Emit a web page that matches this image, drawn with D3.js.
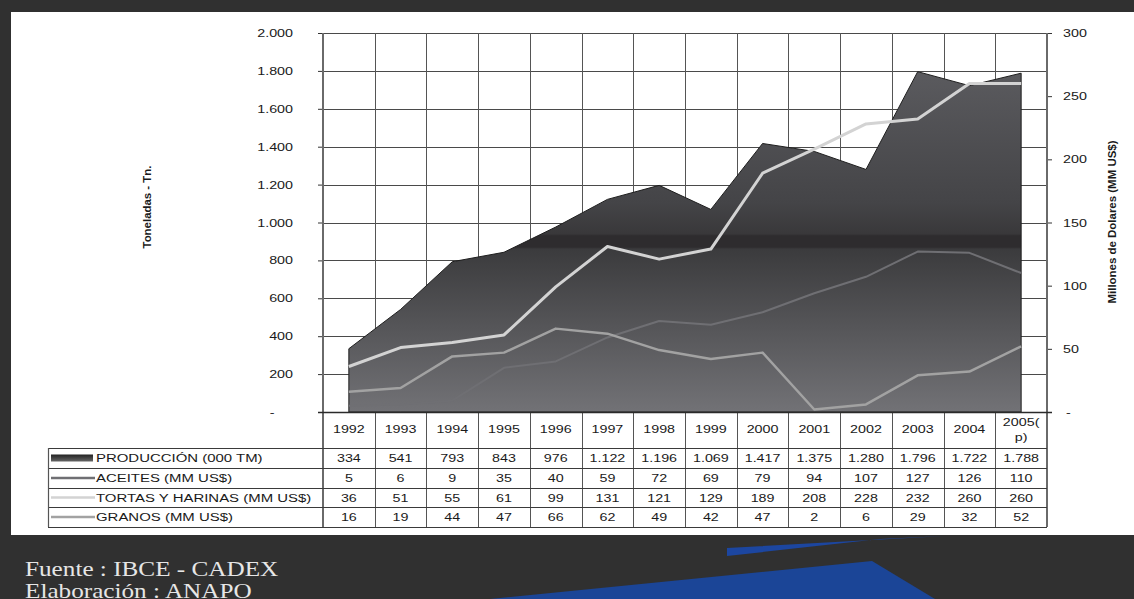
<!DOCTYPE html>
<html>
<head>
<meta charset="utf-8">
<script src="https://cdn.jsdelivr.net/npm/d3@7"></script>
<style>
  html, body { margin: 0; padding: 0; background: #303030; }
  svg { display: block; }
</style>
</head>
<body>
<div id="chart"></div>
<script>
// Producción y exportaciones de soya - area + lineas, tabla de datos debajo

var years = ["1992", "1993", "1994", "1995", "1996", "1997", "1998", "1999", "2000", "2001", "2002", "2003", "2004", "2005(p)"];
var produccion = [334, 541, 793, 843, 976, 1122, 1196, 1069, 1417, 1375, 1280, 1796, 1722, 1788];
var aceites = [5, 6, 9, 35, 40, 59, 72, 69, 79, 94, 107, 127, 126, 110];
var tortas = [36, 51, 55, 61, 99, 131, 121, 129, 189, 208, 228, 232, 260, 260];
var granos = [16, 19, 44, 47, 66, 62, 49, 42, 47, 2, 6, 29, 32, 52];

var leftTicks = [0, 200, 400, 600, 800, 1000, 1200, 1400, 1600, 1800, 2000];
var rightTicks = [0, 50, 100, 150, 200, 250, 300];

var seriesRows = [
    { name: "PRODUCCIÓN (000 TM)", values: produccion, kind: "area" },
    { name: "ACEITES (MM US$)", values: aceites, kind: "line", color: "#6f6f73", width: 2 },
    { name: "TORTAS Y HARINAS (MM US$)", values: tortas, kind: "line", color: "#d3d3d3", width: 3 },
    { name: "GRANOS (MM US$)", values: granos, kind: "line", color: "#a2a2a2", width: 2.5 }
];

(function() {

    var width = 1134;
    var height = 599;
    var SX = 1.3;   // the original picture is stretched horizontally
    var font = "'Liberation Sans', Arial, sans-serif";

    var locale = d3.formatLocale({ decimal: ",", thousands: ".", grouping: [3], currency: ["$", ""] });
    var fmt = locale.format(",d");

    var svg = d3.select("#chart").append("svg")
        .attr("width", width)
        .attr("height", height);

    var defs = svg.append("defs");

    var grad = defs.append("linearGradient")
        .attr("id", "areaGrad")
        .attr("gradientUnits", "userSpaceOnUse")
        .attr("x1", 0).attr("y1", 33)
        .attr("x2", 0).attr("y2", 412);

    [[0, "#616165"], [0.45, "#444447"], [0.53, "#39383a"], [0.535, "#2e2c2e"],
     [0.565, "#2e2c2e"], [0.57, "#3b3b3d"], [1, "#727276"]].forEach(function(s) {
        grad.append("stop").attr("offset", s[0]).attr("stop-color", s[1]);
    });

    var legGrad = defs.append("linearGradient")
        .attr("id", "legGrad")
        .attr("x1", 0).attr("y1", 0).attr("x2", 0).attr("y2", 1);
    legGrad.append("stop").attr("offset", 0).attr("stop-color", "#222");
    legGrad.append("stop").attr("offset", 1).attr("stop-color", "#666");

    // background
    svg.append("rect")
        .attr("width", width)
        .attr("height", height)
        .attr("fill", "#303030");

    // blue decorations at the bottom
    svg.append("polygon")
        .attr("points", "727,548 945,536 880,539 727,556")
        .attr("fill", "#1c46a0");

    svg.append("polygon")
        .attr("points", "490,599 872,561 935,599")
        .attr("fill", "#1b4597");

    // white panel
    svg.append("rect")
        .attr("x", 11)
        .attr("y", 12)
        .attr("width", width - 11)
        .attr("height", 523)
        .attr("fill", "#ffffff");

    function sText(x, y, str, size, anchor, weight) {
        return svg.append("text")
            .attr("transform", "translate(" + x + "," + y + ") scale(" + SX + ",1)")
            .attr("text-anchor", anchor || "start")
            .attr("font-family", font)
            .attr("font-size", size + "px")
            .attr("font-weight", weight || "normal")
            .attr("fill", "#1a1a1a")
            .text(str);
    }

    // footer texts
    svg.append("text")
        .attr("transform", "translate(25,576) scale(1.2,1)")
        .attr("font-family", "'Liberation Serif', 'Times New Roman', serif")
        .attr("font-size", "21px")
        .attr("fill", "#e6e6e6")
        .text("Fuente : IBCE - CADEX");

    svg.append("text")
        .attr("transform", "translate(25,598) scale(1.2,1)")
        .attr("font-family", "'Liberation Serif', 'Times New Roman', serif")
        .attr("font-size", "21px")
        .attr("fill", "#e6e6e6")
        .text("Elaboración : ANAPO");

    // scales
    var plotLeft = 323, plotRight = 1047, plotTop = 33, plotBottom = 412;
    var tableLeft = 48;
    var rowTops = [448, 468, 488, 507, 527];

    var x = d3.scaleBand().domain(years).range([plotLeft, plotRight]).padding(0);
    var yL = d3.scaleLinear().domain([0, 2000]).range([plotBottom, plotTop]);
    var yR = d3.scaleLinear().domain([0, 300]).range([plotBottom, plotTop]);

    function cx(d) { return x(d) + x.bandwidth() / 2; }

    // grid
    svg.append("g").selectAll("line")
        .data(leftTicks)
        .enter().append("line")
        .attr("x1", plotLeft).attr("x2", plotRight)
        .attr("y1", function(d) { return Math.round(yL(d)) + 0.5; })
        .attr("y2", function(d) { return Math.round(yL(d)) + 0.5; })
        .attr("stroke", "#4a4a4a")
        .attr("stroke-width", 1);

    var bounds = years.map(function(d) { return x(d); }).concat([plotRight]);

    svg.append("g").selectAll("line")
        .data(bounds)
        .enter().append("line")
        .attr("x1", function(d) { return Math.round(d) + 0.5; })
        .attr("x2", function(d) { return Math.round(d) + 0.5; })
        .attr("y1", plotTop)
        .attr("y2", rowTops[4])
        .attr("stroke", "#555555")
        .attr("stroke-width", 1);

    // area
    var area = d3.area()
        .x(function(d, i) { return cx(years[i]); })
        .y0(plotBottom)
        .y1(function(d) { return yL(d); });

    svg.append("path")
        .datum(produccion)
        .attr("d", area)
        .attr("fill", "url(#areaGrad)")
        .attr("stroke", "#1e1e1e")
        .attr("stroke-width", 1);

    // lines on the right axis
    var line = d3.line()
        .x(function(d, i) { return cx(years[i]); })
        .y(function(d) { return yR(d); });

    seriesRows.filter(function(s) { return s.kind === "line"; }).forEach(function(s) {
        svg.append("path")
            .datum(s.values)
            .attr("d", line)
            .attr("fill", "none")
            .attr("stroke", s.color)
            .attr("stroke-width", s.width)
            .attr("stroke-linejoin", "round");
    });

    // axes
    var leftAxis = svg.append("g")
        .attr("transform", "translate(" + plotLeft + ",0)")
        .call(d3.axisLeft(yL).tickValues(leftTicks).tickSize(5).tickFormat(function(d) {
            return d === 0 ? "-" : fmt(d);
        }));

    var rightAxis = svg.append("g")
        .attr("transform", "translate(" + plotRight + ",0)")
        .call(d3.axisRight(yR).tickValues(rightTicks).tickSize(5).tickFormat(function(d) {
            return d === 0 ? "-" : fmt(d);
        }));

    [leftAxis, rightAxis].forEach(function(ax) {
        ax.select(".domain").remove();
        ax.selectAll(".tick line").attr("stroke", "#333");
        ax.selectAll(".tick text")
            .attr("font-family", font)
            .attr("font-size", "11px")
            .attr("fill", "#1a1a1a")
            .attr("transform", "scale(" + SX + ",1)");
    });

    leftAxis.selectAll(".tick text")
        .attr("x", function(d) { return d === 0 ? -51 / SX : -30 / SX; })
        .attr("text-anchor", function(d) { return d === 0 ? "middle" : "end"; });

    rightAxis.selectAll(".tick text")
        .attr("x", function(d) { return d === 0 ? 19 / SX : 16 / SX; });

    // axis lines
    svg.append("line")
        .attr("x1", plotLeft).attr("x2", plotLeft)
        .attr("y1", plotTop).attr("y2", rowTops[4])
        .attr("stroke", "#6a6a6a").attr("stroke-width", 2);

    svg.append("line")
        .attr("x1", plotRight).attr("x2", plotRight)
        .attr("y1", plotTop).attr("y2", rowTops[4])
        .attr("stroke", "#6a6a6a").attr("stroke-width", 2);

    svg.append("line")
        .attr("x1", plotLeft - 5).attr("x2", plotRight + 5)
        .attr("y1", plotBottom + 0.5).attr("y2", plotBottom + 0.5)
        .attr("stroke", "#2a2a2a").attr("stroke-width", 1.5);

    // axis titles
    svg.append("text")
        .attr("transform", "translate(151,207) scale(" + SX + ",1) rotate(-90)")
        .attr("text-anchor", "middle")
        .attr("font-family", font)
        .attr("font-size", "9px")
        .attr("font-weight", "bold")
        .attr("fill", "#1a1a1a")
        .attr("textLength", 83)
        .attr("lengthAdjust", "spacingAndGlyphs")
        .text("Toneladas - Tn.");

    svg.append("text")
        .attr("transform", "translate(1116,222) scale(" + SX + ",1) rotate(-90)")
        .attr("text-anchor", "middle")
        .attr("font-family", font)
        .attr("font-size", "9px")
        .attr("font-weight", "bold")
        .attr("fill", "#1a1a1a")
        .attr("textLength", 163)
        .attr("lengthAdjust", "spacingAndGlyphs")
        .text("Millones de Dolares (MM US$)");

    // data table
    svg.append("g").selectAll("line")
        .data(rowTops)
        .enter().append("line")
        .attr("x1", tableLeft).attr("x2", plotRight)
        .attr("y1", function(d) { return d + 0.5; })
        .attr("y2", function(d) { return d + 0.5; })
        .attr("stroke", "#3a3a3a")
        .attr("stroke-width", 1.2);

    svg.append("line")
        .attr("x1", tableLeft + 0.5).attr("x2", tableLeft + 0.5)
        .attr("y1", rowTops[0]).attr("y2", rowTops[4])
        .attr("stroke", "#555").attr("stroke-width", 1.2);

    // year header
    years.forEach(function(yr) {
        if (yr.length > 4) {
            sText(cx(yr), 426, yr.slice(0, 5), 11, "middle");
            sText(cx(yr), 441, yr.slice(5), 11, "middle");
        } else {
            sText(cx(yr), 433, yr, 11, "middle");
        }
    });

    // rows
    seriesRows.forEach(function(s, r) {
        var mid = (rowTops[r] + rowTops[r + 1]) / 2;

        if (s.kind === "area") {
            svg.append("rect")
                .attr("x", 51).attr("y", mid - 3.5)
                .attr("width", 42).attr("height", 7)
                .attr("fill", "url(#legGrad)");
        } else {
            svg.append("line")
                .attr("x1", 51).attr("x2", 95)
                .attr("y1", mid).attr("y2", mid)
                .attr("stroke", s.color)
                .attr("stroke-width", 2.5);
        }

        sText(96, mid + 4, s.name, 11.5, "start");

        s.values.forEach(function(v, i) {
            sText(cx(years[i]), mid + 4, fmt(v), 11, "middle");
        });
    });

})();
</script>
</body>
</html>
